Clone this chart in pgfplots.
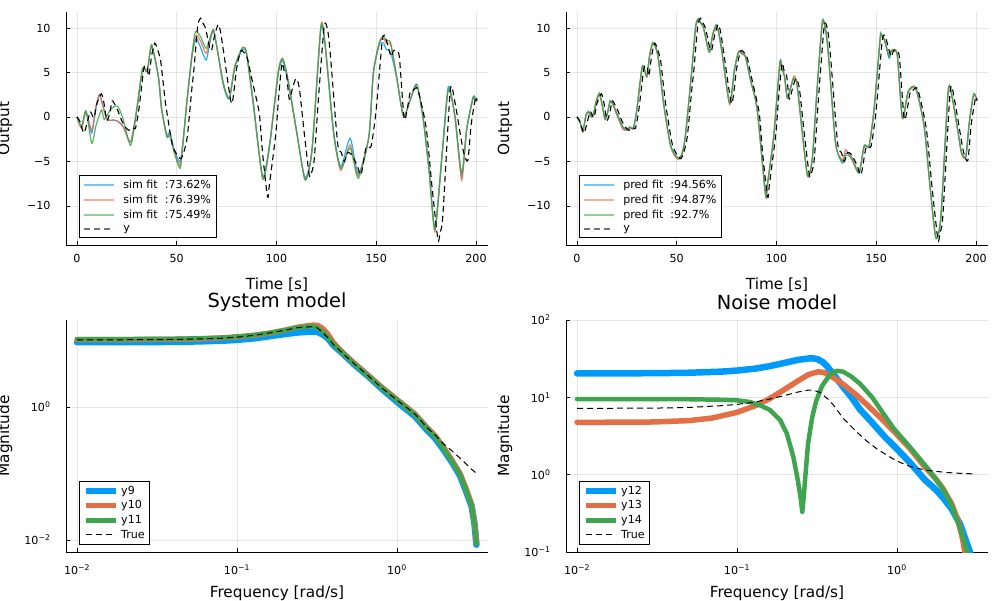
\documentclass[border=0pt]{standalone}
\usepackage{fontspec}
\setmainfont{DejaVu Sans}
\usepackage{pgfplots}
\usepackage{pgfplotstable}
\pgfplotsset{compat=1.18}
\definecolor{c1}{RGB}{0,154,250}
\definecolor{c2}{RGB}{227,111,71}
\definecolor{c3}{RGB}{62,164,78}

\pgfplotstableread{
t y
0 0
1.5 -0.5
3.5 -1.8
5.5 -0.3
6.7 0.6
8.5 -0.1
10 1.5
12.2 2.6
13.5 1.6
15 -0.4
16.5 0.5
17.6 1.8
19 1.4
20.5 0.7
22.6 -0.5
24.5 -1.2
26 -1.5
28 -1.2
29.3 -1.3
31 0.8
33.5 5.4
35 5.7
36 4.6
37.5 7.0
39 8.3
40.5 7.5
42 6.2
44.4 1.5
47.7 -3.0
50 -4.2
52 -4.7
53.5 -4.0
55.3 -2.2
57.5 3.0
58.6 5.3
60.5 10.2
61.9 11.1
63 10.6
64.4 10.0
66.5 7.8
67.5 7.5
69 9.2
70.8 10.4
72 9.5
73.7 7.0
77.5 1.5
79.9 5.3
82 7.4
84 7.2
85.4 6.6
87.9 4.0
91.3 0.5
93 -4.0
95.5 -9.0
96.5 -7.5
99.6 -2.0
101 2.0
102.7 6.0
103.8 5.2
105 4.8
106.4 2.0
108 3.2
109.7 4.3
111.4 3.3
114 -2.0
116.4 -6.5
117.5 -6.3
118.9 -4.8
121 2.0
123.9 10.2
125.6 9.8
127 7.0
130.6 -2.9
132.5 -4.0
134 -5.0
135.6 -4.0
137.5 -4.2
139 -4.8
140.5 -5.5
142.4 -6.5
144.9 -3.4
147.4 -3.3
149.9 0.7
152.9 8.4
154 9.2
155 8.7
157.4 6.8
158.5 7.4
159.9 7.5
161.6 6.7
164.1 -0.3
167 2.8
168.5 3.0
170.8 3.1
175 -1.2
178 -8.0
180.9 -13.8
182 -13.0
183.4 -11.0
187.1 3.0
189.3 1.8
191.8 -1.5
193.8 -4.0
195.9 -4.9
197.6 -0.8
199.8 2.2
200.5 1.8
}\ytab

\pgfplotstableread{
t s1 s2 s3
0 0 0 0
2.3 -1.2 -1.3 -1.0
4.5 0.5 0.6 0.7
7.4 -1.8 -1.5 -2.96
9.5 1.0 1.2 -1.0
11.2 2.5 2.5 0.2
12.4 1.8 1.7 0.8
13.6 0.8 0.7 -0.3
14.9 -0.2 -0.2 0.1
16.5 -0.4 -0.4 0.7
18.2 -0.35 -0.35 1.1
20.5 -0.5 -0.5 1.2
23.2 -1.1 -1.1 -0.3
26.9 -2.8 -2.8 -3.2
29.9 0.8 0.8 0.6
32.9 5.5 5.5 5.4
35.2 5.1 5.1 5.2
37.4 7.9 8.1 8.1
40.8 4.5 4.6 4.5
42.4 0.8 1.0 1.0
45 -2.0 -2.2 -2.2
46.6 -1.7 -2.0 -2.1
48.5 -3.5 -3.7 -3.8
51.6 -5.1 -5.5 -5.8
53 -3.0 -3.2 -3.3
55 1.5 1.5 1.5
57.5 6.6 6.6 6.8
59 8.4 8.8 9.3
60 8.8 9.2 9.6
62 7.8 8.5 9.0
64.7 6.4 7.15 7.7
66.5 8.2 8.5 8.8
68.3 9.8 9.8 9.8
70 8.0 8.0 8.0
73.3 3.6 3.8 3.9
76.3 2.0 2.1 2.1
79.1 5.5 5.65 5.7
83 7.6 7.8 7.8
85 7.0 7.15 7.2
88.4 1.3 1.5 1.6
93.1 -6.7 -7.0 -6.9
96.7 -2.7 -2.96 -3.0
100.9 4.9 5.1 5.1
103.1 6.3 6.6 6.5
105.9 3.8 4.0 4.1
110 -1.6 -1.5 -1.5
114.3 -6.8 -7.0 -7.1
117.8 -3.6 -3.7 -3.8
122.2 9.8 10.2 10.0
124.3 8.2 8.3 8.3
128.6 -1.6 -1.8 -1.8
132.2 -5.6 -6.0 -5.8
136.9 -2.4 -3.15 -3.5
141 -6.4 -6.6 -6.9
146.3 -2.2 -2.2 -2.2
148.5 4.8 4.9 4.9
151.5 8.1 8.3 8.4
153.6 8.3 8.8 9.1
155 7.6 8.3 8.6
157.2 7.3 8.1 8.35
160.2 4.4 4.5 4.6
163.6 0.1 0.1 0.1
167 1.9 1.9 1.9
170.3 3.7 3.6 3.6
173.6 -0.3 -0.34 -0.4
176.5 -6.0 -6.2 -6.2
179.4 -12.4 -12.9 -12.7
182.8 -4.6 -4.8 -4.8
186.1 3.4 3.0 3.1
189.4 0.1 0.04 0.1
192.8 -6.6 -7.1 -6.3
195.3 -1.4 -1.46 -1.4
198.6 2.3 2.1 2.2
200 1.8 1.7 1.7
}\simtab

\pgfplotstableread{
t p1 p2 p3
0 0 0 0
1.5 -0.6 -0.6 -0.5
2.9 -1.65 -1.7 -1.6
4.5 0.2 0.1 0.2
5.7 0.6 0.5 0.6
7.3 0.0 0.0 0.1
8.5 0.5 0.5 0.6
9.5 1.6 1.5 1.7
11.2 2.6 2.5 2.7
12.5 1.5 1.4 1.6
14.1 -0.3 -0.3 -0.2
15.5 0.6 0.6 0.7
16.6 1.8 1.7 1.8
18 1.5 1.4 1.5
19.1 0.8 0.7 0.9
21.6 -0.5 -0.7 -0.4
23 -1.2 -1.4 -1.1
25 -1.5 -1.5 -1.4
26.5 -1.2 -1.2 -1.1
28.3 -1.3 -1.3 -1.2
30 0.8 0.8 0.9
32.5 5.4 5.3 5.5
33.5 5.6 5.5 5.6
35 4.5 4.5 4.6
36.5 7.0 7.0 7.1
38 8.3 8.2 8.4
39.5 7.8 7.8 7.8
40.9 6.4 6.3 6.4
43.4 1.5 1.5 1.6
46.7 -3.0 -3.1 -3.0
49 -4.2 -4.4 -4.2
50.9 -4.7 -4.8 -4.6
52.5 -4.3 -4.3 -4.2
54.3 -2.2 -2.2 -2.1
57.6 5.3 5.3 5.4
59.5 10.2 10.1 10.3
60.9 11.0 10.8 11.1
62 10.6 10.5 10.6
63.4 10.1 10.0 10.1
65.5 7.8 7.8 7.9
66.5 7.3 7.3 7.4
68 9.2 9.1 9.3
69.8 10.3 10.2 10.4
71 9.5 9.5 9.6
72.7 7.2 7.2 7.3
76.5 1.5 1.4 1.6
78.9 5.3 5.2 5.3
81 7.3 7.4 7.3
83 7.1 7.2 7.0
84.4 6.8 6.8 6.8
86.9 4.2 4.3 4.2
90.3 0.8 0.8 0.9
94.5 -8.8 -8.8 -8.6
95.5 -7.5 -7.6 -7.4
98.6 -2.2 -2.2 -2.1
101.7 6.0 6.0 6.2
102.8 5.3 5.3 5.4
104 4.6 4.7 4.5
105.4 2.1 2.1 2.2
107 3.2 3.2 3.3
108.7 4.35 4.6 4.3
110.4 3.4 3.5 3.4
115.4 -6.5 -6.5 -6.4
117.9 -4.8 -4.8 -4.7
120 2.0 2.0 2.1
122.9 10.5 10.4 10.7
124.6 9.8 9.7 9.9
126 7.0 7.0 7.1
129.6 -3.0 -3.0 -2.9
133 -5.0 -4.8 -5.2
134.6 -4.1 -3.7 -4.3
136.5 -4.2 -4.2 -4.4
138 -4.8 -4.6 -4.9
141.4 -6.3 -6.2 -6.3
143.9 -3.3 -3.4 -3.2
146.4 -3.3 -3.2 -3.2
148.9 0.8 0.8 0.9
151.9 8.65 8.6 8.8
152.3 9.2 9.1 9.4
154 8.65 8.7 8.8
156.4 6.6 6.9 6.8
157.5 7.4 7.5 7.4
158.9 7.5 7.4 7.6
160.6 6.8 6.8 6.9
163.1 -0.15 -0.2 -0.1
166 2.85 2.8 2.9
169.8 3.2 3.1 3.3
174 -1.1 -1.1 -1.0
177 -8.0 -8.0 -7.9
179.9 -13.6 -13.6 -13.7
182.4 -11.2 -11.2 -11.1
186.1 3.0 3.1 3.0
188.3 1.9 1.8 1.9
190.8 -1.5 -1.5 -1.4
192.8 -4.1 -4.2 -4.0
194.9 -4.5 -4.5 -4.4
196.6 -0.7 -0.7 -0.6
198.8 2.5 2.4 2.6
200.4 1.9 1.9 2.0
}\predtab

\pgfplotstableread{
w a b c tr
0.01 9.4 10.3 10.5 10.2
0.02 9.4 10.3 10.5 10.25
0.04 9.5 10.4 10.6 10.35
0.06 9.7 10.6 10.8 10.55
0.08 9.9 10.9 11.0 10.8
0.1 10.2 11.3 11.4 11.2
0.13 10.8 12.0 12.1 12.0
0.16 11.6 12.9 13.0 13.0
0.2 12.5 14.3 14.3 14.3
0.24 13.2 15.8 15.6 15.6
0.28 13.5 16.7 16.2 16.0
0.3 13.6 17.0 16.3 16.1
0.32 13.4 16.8 15.5 15.3
0.345 12.2 15.0 13.3 13.0
0.37 10.8 12.4 11.2 11.0
0.4 8.5 9.3 8.8 8.7
0.46 6.3 6.5 6.4 6.35
0.55 4.2 4.4 4.3 4.3
0.65 3.0 3.1 3.05 3.05
0.8 1.9 2.0 1.97 1.95
1.0 1.2 1.3 1.28 1.27
1.3 0.72 0.78 0.76 0.78
1.53 0.46 0.5 0.49 0.5
1.75 0.33 0.36 0.35 0.37
1.95 0.23 0.25 0.24 0.28
2.2 0.15 0.16 0.155 0.22
2.48 0.093 0.1 0.097 0.17
2.7 0.055 0.06 0.058 0.14
2.93 0.032 0.034 0.033 0.115
3.05 0.018 0.019 0.018 0.107
3.1 0.012 0.013 0.012 0.103
3.14 0.0085 0.009 0.0088 0.100
}\systab

\pgfplotstableread{
w a
0.01 20.4
0.03 20.5
0.05 20.8
0.08 21.5
0.1 22.2
0.13 23.5
0.16 25.3
0.2 28.0
0.24 30.5
0.28 31.8
0.3 31.9
0.32 31.0
0.345 28.5
0.37 24.5
0.4 20.0
0.46 13.7
0.52 10.0
0.587 7.0
0.7 4.7
0.85 3.0
1.0 2.15
1.2 1.45
1.5 0.85
1.75 0.64
1.95 0.5
2.2 0.36
2.48 0.23
2.7 0.14
2.86 0.1
3.0 0.06
}\nza

\pgfplotstableread{
w b
0.01 4.74
0.03 4.8
0.05 5.0
0.07 5.4
0.1 6.4
0.13 7.8
0.16 9.6
0.2 12.8
0.24 16.3
0.28 19.7
0.32 21.4
0.35 21.0
0.4 18.0
0.46 14.8
0.55 11.0
0.65 8.0
0.8 5.3
1.0 3.3
1.2 2.2
1.5 1.25
1.75 0.88
1.95 0.65
2.2 0.42
2.4 0.26
2.55 0.16
2.66 0.1
2.75 0.07
}\nzb

\pgfplotstableread{
w c
0.01 9.5
0.03 9.5
0.05 9.45
0.08 9.3
0.1 9.15
0.12 8.7
0.139 7.9
0.16 6.9
0.186 5.1
0.205 3.4
0.225 1.7
0.24 0.85
0.25 0.5
0.256 0.33
0.261 0.5
0.268 1.0
0.278 2.5
0.295 5.5
0.313 9.0
0.34 14.0
0.38 19.5
0.42 22.0
0.46 21.5
0.52 18.5
0.587 15.0
0.7 10.0
0.95 4.0
1.2 2.3
1.53 1.26
1.75 0.88
1.95 0.64
2.2 0.4
2.45 0.22
2.6 0.15
2.75 0.1
2.85 0.07
}\nzc

\pgfplotstableread{
w tr
0.01 7.2
0.03 7.25
0.05 7.4
0.08 7.8
0.1 8.1
0.13 8.7
0.16 9.5
0.2 10.6
0.24 11.7
0.28 12.4
0.3 12.4
0.33 11.6
0.37 9.5
0.4 8.0
0.46 5.4
0.55 3.7
0.65 2.7
0.75 2.15
0.9 1.7
1.0 1.5
1.2 1.28
1.5 1.15
2.0 1.07
2.5 1.04
3.14 1.02
}\nztr

\newcommand{\tfont}{\fontsize{11.1}{13}\selectfont}
\newcommand{\gfont}{\fontsize{15.3}{18}\selectfont}
\newcommand{\hfont}{\fontsize{19.4}{23}\selectfont}

\pgfplotsset{
  jl/.style={
    scale only axis, width=422pt, anchor=south west,
    axis lines=left, axis line style={-, line width=0.8pt},
    every inner x axis line/.append style={-},
    every inner y axis line/.append style={-},
    every outer x axis line/.append style={-},
    every outer y axis line/.append style={-},
    grid=major, major grid style={black, opacity=0.1, line width=0.5pt},
    tick align=inside, major tick length=4pt, tick style={black, line width=0.6pt},
    tick label style={font=\tfont},
    yticklabel style={xshift=-12pt},
    label style={font=\gfont},
    title style={font=\hfont},
    legend cell align=left,
    legend style={font=\tfont, draw=black, line width=0.8pt, anchor=south west,
      inner xsep=3pt, inner ysep=3pt, row sep=1pt},
  },
  ts/.style={jl, height=233pt, xmin=-5.5, xmax=206, ymin=-14.4, ymax=11.8,
    xtick={0,50,100,150,200}, ytick={-10,-5,0,5,10},
    xticklabels={0,50,100,150,200},
    yticklabels={−10,−5,0,5,10},
    xticklabel style={yshift=-6pt},
    xlabel={Time [s]}, ylabel={Output},
    xlabel style={at={(axis description cs:0.5,-0.172)}, anchor=center},
    ylabel style={at={(axis description cs:-0.1445,0.5)}, anchor=center},
    legend style={at={(axis description cs:0.0315,0.029)}},
    legend image code/.code={\draw[##1, line width=2pt, opacity=0.55] (0pt,0pt) -- (30pt,0pt); \path (37pt,0pt);},
  },
  bd/.style={jl, height=232pt,
    xmin=0.00853, xmax=3.71,
    xtick={0.01,0.1,1}, xticklabels={10\textsuperscript{−2},10\textsuperscript{−1},10\textsuperscript{0}},
    xticklabel style={yshift=-9pt},
    xlabel={Frequency [rad/s]}, ylabel={Magnitude},
    xlabel style={at={(axis description cs:0.5,-0.18)}, anchor=center},
    ylabel style={at={(axis description cs:-0.1445,0.5)}, anchor=center},
    title style={at={(axis description cs:0.5,1.05)}, anchor=center},
    legend style={at={(axis description cs:0.0315,0.03)}},
    legend image code/.code={\draw[##1, line cap=butt] (0pt,0pt) -- (30pt,0pt);},
  },
}

\begin{document}
\begin{tikzpicture}
\useasboundingbox (0pt,0pt) rectangle (1000pt,600pt);
\clip (0pt,0pt) rectangle (1000pt,600pt);

% top left
\begin{axis}[ts, at={(66pt,355pt)}]
\addplot[c1, line width=1.2pt, opacity=0.85, smooth, tension=0.4] table[x=t,y=s1] {\simtab};
\addlegendentry{sim fit\ \ :73.62\%}
\addplot[c2, line width=1.2pt, opacity=0.85, smooth, tension=0.4] table[x=t,y=s2] {\simtab};
\addlegendentry{sim fit\ \ :76.39\%}
\addplot[c3, line width=1.2pt, opacity=0.85, smooth, tension=0.4] table[x=t,y=s3] {\simtab};
\addlegendentry{sim fit\ \ :75.49\%}
\addplot[black, line width=1.1pt, dash pattern=on 6pt off 4pt, smooth, tension=0.4] table[x=t,y=y] {\ytab};
\addlegendentry{y}
\end{axis}

% top right
\begin{axis}[ts, at={(566pt,355pt)}]
\addplot[c1, line width=1.2pt, opacity=0.85, smooth, tension=0.4] table[x=t,y=p1] {\predtab};
\addlegendentry{pred fit\ \ :94.56\%}
\addplot[c2, line width=1.2pt, opacity=0.85, smooth, tension=0.4] table[x=t,y=p2] {\predtab};
\addlegendentry{pred fit\ \ :94.87\%}
\addplot[c3, line width=1.2pt, opacity=0.85, smooth, tension=0.4] table[x=t,y=p3] {\predtab};
\addlegendentry{pred fit\ \ :92.7\%}
\addplot[black, line width=1.1pt, dash pattern=on 6pt off 4pt, smooth, tension=0.4] table[x=t,y=y] {\ytab};
\addlegendentry{y}
\end{axis}

% bottom left
\begin{loglogaxis}[bd, at={(66pt,48pt)}, ymin=0.0066, ymax=20.3,
  xminorticks=false, yminorticks=false, minor grid style={draw=none},
  ytick={0.01,1}, yticklabels={10\textsuperscript{−2},10\textsuperscript{0}},
  title={System model}]
\addplot[c1, line width=6.5pt, line cap=round, line join=round] table[x=w,y=a] {\systab};
\addlegendentry{y9}
\addplot[c2, line width=5.5pt, line cap=round, line join=round] table[x=w,y=b] {\systab};
\addlegendentry{y10}
\addplot[c3, line width=4.5pt, line cap=round, line join=round] table[x=w,y=c] {\systab};
\addlegendentry{y11}
\addplot[black, line width=1pt, dash pattern=on 6pt off 4pt] table[x=w,y=tr] {\systab};
\addlegendentry{True}
\end{loglogaxis}

% bottom right
\begin{loglogaxis}[bd, at={(566pt,48pt)}, ymin=0.1, ymax=100,
  xminorticks=false, yminorticks=false, minor grid style={draw=none},
  ytick={0.1,1,10,100}, yticklabels={10\textsuperscript{−1},10\textsuperscript{0},10\textsuperscript{1},10\textsuperscript{2}},
  title={Noise model}]
\addplot[c1, line width=6.5pt, line cap=round, line join=round] table[x=w,y=a] {\nza};
\addlegendentry{y12}
\addplot[c2, line width=5.5pt, line cap=round, line join=round] table[x=w,y=b] {\nzb};
\addlegendentry{y13}
\addplot[c3, line width=4.5pt, line cap=round, line join=round] table[x=w,y=c] {\nzc};
\addlegendentry{y14}
\addplot[black, line width=1pt, dash pattern=on 6pt off 4pt] table[x=w,y=tr] {\nztr};
\addlegendentry{True}
\end{loglogaxis}
\end{tikzpicture}
\end{document}
